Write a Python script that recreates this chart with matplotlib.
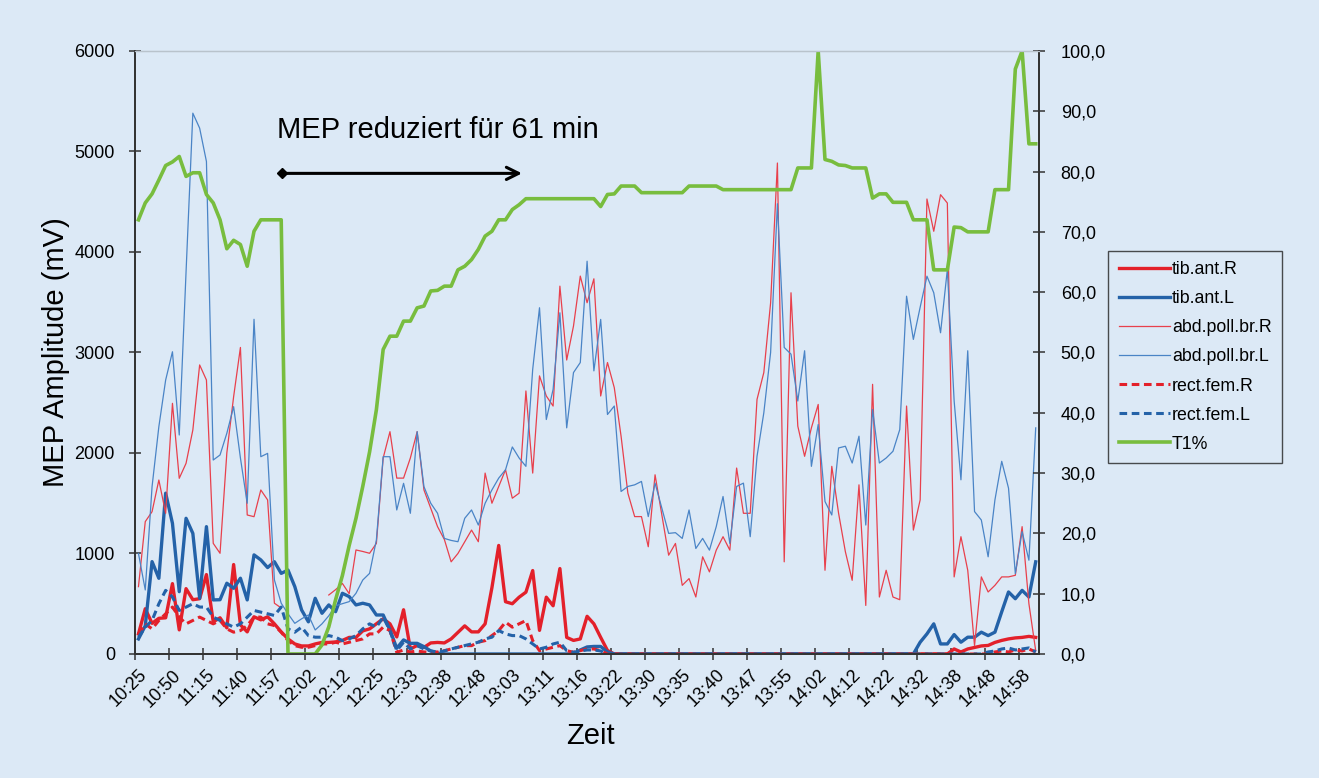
import numpy as np
import matplotlib
matplotlib.use('Agg')
import matplotlib.pyplot as plt
from matplotlib.ticker import FuncFormatter

plt.rcParams['font.family'] = ['Liberation Sans', 'DejaVu Sans']

# --- Data (one value per measurement, 133 measurements) ---
nan = np.nan

time_labels = ['10:25', '10:50', '11:15', '11:40', '11:57', '12:02', '12:12', '12:25',
               '12:33', '12:38', '12:48', '13:03', '13:11', '13:16', '13:22', '13:30',
               '13:35', '13:40', '13:47', '13:55', '14:02', '14:12', '14:22', '14:32',
               '14:38', '14:48', '14:58']

tib_ant_R = [200, 450, 305, 355, 360, 700, 240, 650, 540, 550,
             790, 320, 360, 260, 890, 290, 220, 370, 340, 370,
             300, 220, 150, 100, 80, 80, 100, 115, 115, 120,
             135, 165, 165, 230, 250, 300, 350, 300, 170, 440,
             50, 85, 65, 110, 115, 110, 150, 215, 280, 220,
             220, 300, 660, 1080, 520, 500, 565, 615, 830, 235,
             565, 480, 850, 165, 135, 150, 375, 300, 165, 35] \
    + [0] * 50 \
    + [50, 20, 50, 65, 80, 85, 115, 135, 150, 160, 165, 175, 165]

tib_ant_L = [150, 280, 919, 753, 1600, 1300, 620, 1350, 1200, 554,
             1267, 538, 540, 704, 654, 754, 538, 986, 936, 860,
             918, 802, 835, 670, 438, 320, 554, 405, 488, 421,
             604, 571, 488, 505, 488, 388, 388, 239, 57, 140,
             106, 106, 73, 30, 10] \
    + [0] * 20 \
    + [40, 70, 75, 75, 20] \
    + [0] * 45 \
    + [117, 200, 300, 100, 100, 193, 117, 167, 167, 217, 183, 217,
       420, 617, 550, 633, 567, 917]

abd_poll_R = [670, 1317, 1416, 1731, 1400, 2494, 1748, 1897, 2229, 2876,
              2726, 1101, 1002, 2000, 2560, 3050, 1383, 1366, 1632, 1533,
              505, 458, nan, nan, nan, nan, nan, nan, 587, 640,
              702, 600, 1035, 1020, 1002, 1100, 1950, 2212, 1750, 1750,
              1950, 2212, 1632, 1450, 1267, 1140, 917, 1000, 1117, 1233,
              1117, 1800, 1500, 1667, 1833, 1550, 1600, 2617, 1800, 2767,
              2567, 2467, 3660, 2925, 3263, 3760, 3495, 3733, 2567, 2900,
              2650, 2167, 1600, 1367, 1367, 1067, 1783, 1383, 983, 1100,
              683, 750, 567, 967, 817, 1033, 1167, 1033, 1850, 1400,
              1400, 2533, 2800, 3494, 4885, 917, 3594, 2267, 1967, 2250,
              2483, 833, 1867, 1400, 1017, 733, 1683, 483, 2683, 567,
              833, 567, 540, 2467, 1233, 1533, 4527, 4206, 4570, 4487,
              767, 1167, 833, 83, 767, 617, 683, 767, 767, 783,
              1267, 500, 33]

abd_poll_L = [1000, 637, 1665, 2262, 2726, 3007, 2179, 3800, 5381, 5232,
              4900, 1930, 1980, 2196, 2461, 1950, 1500, 3330, 1963, 1996,
              736, 505, 400, 305, 350, 388, 239, 300, 380, 480,
              500, 521, 604, 736, 802, 1134, 1963, 1963, 1433, 1698,
              1400, 2212, 1665, 1500, 1400, 1150, 1130, 1117, 1350, 1433,
              1283, 1500, 1633, 1750, 1833, 2060, 1950, 1867, 2833, 3445,
              2333, 2633, 3395, 2250, 2800, 2900, 3908, 2817, 3329, 2383,
              2467, 1617, 1667, 1683, 1717, 1367, 1700, 1450, 1200, 1207,
              1150, 1433, 1050, 1150, 1033, 1267, 1567, 1100, 1667, 1700,
              1167, 1967, 2400, 3000, 4480, 3050, 2983, 2517, 3017, 1867,
              2283, 1517, 1383, 2050, 2067, 1900, 2167, 1283, 2433, 1900,
              1950, 2017, 2233, 3560, 3130, 3450, 3759, 3594, 3196, 3825,
              2517, 1733, 3017, 1417, 1333, 967, 1533, 1917, 1650, 800,
              1217, 933, 2250]

rect_fem_R = [200, 300, 250, 333, 400, 467, 367, 300, 333, 367,
              333, 300, 333, 250, 217, 233, 283, 367, 367, 300,
              283, 217, 133, 83, 67, 67, 83, 100, 100, 117,
              100, 117, 133, 150, 200, 200, 267, 233, 17, 40,
              20, 30, 20, 17, 20, 33, 50, 67, 83, 83,
              117, 133, 183, 233, 317, 267, 300, 333, 133, 33,
              50, 67, 83, 33, 17, 33, 50, 50, 33] \
    + [0] * 57 \
    + [20, 30, 20, 40, 30, 50, 20]

rect_fem_L = [167, 267, 333, 500, 633, 567, 433, 467, 500, 467,
              467, 367, 333, 300, 267, 300, 367, 433, 417, 400,
              383, 467, 250, 217, 267, 183, 167, 167, 183, 167,
              133, 150, 183, 250, 300, 267, 367, 233, 33, 117,
              50, 83, 50, 30, 20, 30, 50, 67, 83, 100,
              117, 150, 167, 233, 200, 183, 183, 150, 100, 50,
              67, 100, 117, 33, 17, 30, 40, 40, 30] \
    + [0] * 56 \
    + [20, 30, 50, 60, 40, 50, 60, 20]

t1_pct = [72.0, 74.8, 76.3, 78.6, 81.0, 81.6, 82.5, 79.2, 79.8, 79.8,
          76.2, 74.8, 72.0, 67.2, 68.6, 67.9, 64.3, 70.1, 72.0, 72.0,
          72.0, 72.0, 0, 0, 0, 0, 0, 1.5, 4.5, 9.0,
          13.0, 18.0, 22.5, 27.8, 33.5, 40.5, 50.5, 52.7, 52.7, 55.2,
          55.2, 57.4, 57.7, 60.2, 60.3, 61.0, 61.0, 63.7, 64.3, 65.4,
          67.1, 69.3, 70.1, 72.0, 72.0, 73.7, 74.5, 75.5, 75.5, 75.5,
          75.5, 75.5, 75.5, 75.5, 75.5, 75.5, 75.5, 75.5, 74.2, 76.2,
          76.3, 77.6, 77.6, 77.6, 76.5, 76.5, 76.5, 76.5, 76.5, 76.5,
          76.5, 77.6, 77.6, 77.6, 77.6, 77.6, 77.0, 77.0, 77.0, 77.0,
          77.0, 77.0, 77.0, 77.0, 77.0, 77.0, 77.0, 80.6, 80.6, 80.6,
          100.0, 82.0, 81.7, 81.1, 81.0, 80.6, 80.6, 80.6, 75.6, 76.3,
          76.3, 74.9, 74.9, 74.9, 72.0, 72.0, 72.0, 63.7, 63.7, 63.7,
          70.8, 70.7, 70.0, 70.0, 70.0, 70.0, 77.0, 77.0, 77.0, 97.0,
          100.0, 84.6, 84.6]

x = np.arange(len(t1_pct))

# --- Colours ---
BG = '#dce9f6'
RED = '#e3202a'
BLUE = '#2462a8'
RED_THIN = '#e8404c'
BLUE_THIN = '#4a84c6'
GREEN = '#78bd3e'

# --- Plotting ---
fig = plt.figure(figsize=(13.19, 7.78), dpi=100, facecolor=BG)
ax = fig.add_axes([0.1024, 0.1594, 0.6854, 0.7751])
ax.set_facecolor(BG)

ax.plot(x, tib_ant_R, color=RED, lw=2.4, label='tib.ant.R')
ax.plot(x, tib_ant_L, color=BLUE, lw=2.4, label='tib.ant.L')
ax.plot(x, abd_poll_R, color=RED_THIN, lw=0.9, label='abd.poll.br.R')
ax.plot(x, abd_poll_L, color=BLUE_THIN, lw=0.9, label='abd.poll.br.L')
ax.plot(x, rect_fem_R, color=RED, lw=2.2, ls=(0, (2.5, 1.5)), label='rect.fem.R')
ax.plot(x, rect_fem_L, color=BLUE, lw=2.2, ls=(0, (2.5, 1.5)), label='rect.fem.L')

ax2 = ax.twinx()
ax2.plot(x, t1_pct, color=GREEN, lw=2.6, label='T1%')

# Axes limits and ticks
ax.set_xlim(-0.5, len(x) - 0.5)
ax.set_ylim(0, 6000)
ax2.set_ylim(0, 100)
ax.set_yticks(np.arange(0, 6001, 1000))
ax2.set_yticks(np.arange(0, 101, 10))
ax2.yaxis.set_major_formatter(FuncFormatter(lambda v, p: f"{v:.1f}".replace('.', ',')))

ax.set_xticks(np.arange(0, len(x), 5))
ax.set_xticklabels(time_labels, rotation=45, ha='right', va='top', rotation_mode='anchor')
ax.set_xticks(np.arange(-0.5, len(x), 5), minor=True)
ax.tick_params(axis='x', which='major', length=0, pad=9, labelsize=13)
ax.tick_params(axis='x', which='minor', length=9, direction='inout', width=1.1, color='#333333')
ax.tick_params(axis='y', length=9, direction='inout', width=1.1, color='#333333', labelsize=13, pad=10)
ax2.tick_params(axis='y', length=9, direction='inout', width=1.1, color='#333333', labelsize=13, pad=11)

for a in (ax, ax2):
    for side in ('left', 'right', 'bottom'):
        a.spines[side].set_color('#333333')
        a.spines[side].set_linewidth(1.3)
    a.spines['top'].set_color('#b9c3cc')
    a.spines['top'].set_linewidth(0.9)

# Labels
ax.set_ylabel('MEP Amplitude (mV)', fontsize=21)
ax.yaxis.set_label_coords(-0.072, 0.5)
ax.set_xlabel('Zeit', fontsize=21)
ax.xaxis.set_label_coords(0.504, -0.112)

# Annotation: reduced MEP period
ax.annotate('', xy=(0.428, 0.797), xytext=(0.163, 0.797), xycoords='axes fraction',
            arrowprops=dict(arrowstyle='->', lw=2.2, color='black', mutation_scale=22,
                            shrinkA=0, shrinkB=0))
ax.plot([0.163], [0.797], marker='D', markersize=5, color='black', transform=ax.transAxes,
        clip_on=False)
ax.text(0.157, 0.869, 'MEP reduziert für 61 min', transform=ax.transAxes,
        fontsize=21, ha='left', va='center')

# Legend
handles = ax.get_legend_handles_labels()[0] + ax2.get_legend_handles_labels()[0]
labels = [h.get_label() for h in handles]
leg = fig.legend(handles, labels, loc='upper left', bbox_to_anchor=(0.840, 0.678),
                 fontsize=12.8, frameon=True, fancybox=False, handlelength=2.9,
                 handletextpad=0.1, labelspacing=0.68, borderpad=0.6, borderaxespad=0)
leg.get_frame().set_facecolor(BG)
leg.get_frame().set_edgecolor('#222222')
leg.get_frame().set_linewidth(1.0)

# --- Save Plot ---
fig.savefig('out.png', dpi=100, facecolor=BG)
